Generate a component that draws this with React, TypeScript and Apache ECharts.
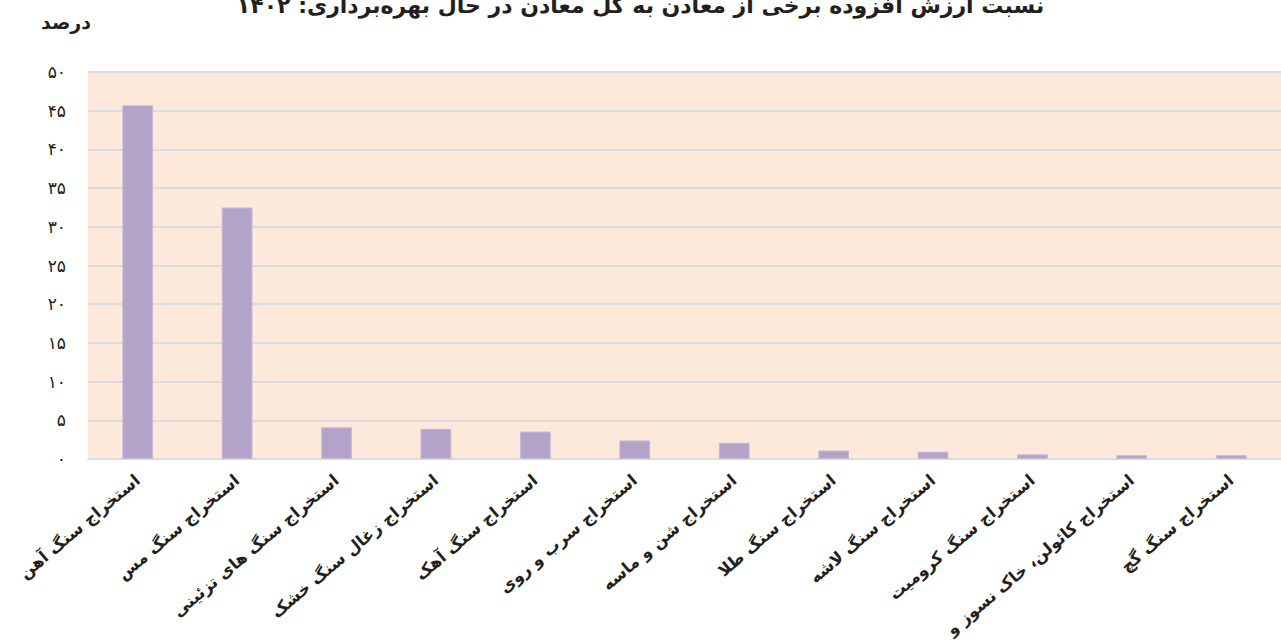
import React, { useEffect, useRef } from "react";
import * as echarts from "echarts";

const title = "نسبت ارزش افزوده برخی از معادن به کل معادن در حال بهره‌برداری: ۱۴۰۲";
const yName = "درصد";
const categories = [
  "استخراج سنگ آهن",
  "استخراج سنگ مس",
  "استخراج سنگ های تزئینی",
  "استخراج زغال سنگ خشک",
  "استخراج سنگ آهک",
  "استخراج سرب و روی",
  "استخراج شن و ماسه",
  "استخراج سنگ طلا",
  "استخراج سنگ لاشه",
  "استخراج سنگ کرومیت",
  "استخراج کائولن، خاک نسوز و",
  "استخراج سنگ گچ",
];
const values = [45.7, 32.5, 4.1, 3.9, 3.55, 2.4, 2.1, 1.1, 0.95, 0.6, 0.5, 0.5];
const yTicks = { min: 0, max: 50, interval: 5 };

const toFa = (n: number) => String(n).replace(/\d/g, (d) => "۰۱۲۳۴۵۶۷۸۹"[Number(d)]);

const FONT = "'DejaVu Sans', sans-serif";

export default function App() {
  const ref = useRef<HTMLDivElement>(null);
  useEffect(() => {
    document.body.style.margin = "0";
    const chart = echarts.init(ref.current!, null, { renderer: "svg" });
    chart.setOption({
      animation: false,
      grid: {
        left: 88,
        right: 0,
        top: 72,
        bottom: 183,
        show: true,
        backgroundColor: "#FCE9DB",
        borderWidth: 0,
        containLabel: false,
        outerBoundsMode: "none",
      },
      graphic: [
        {
          type: "text",
          left: "center",
          top: -6,
          style: { text: title, font: `bold 22px ${FONT}`, fill: "#231F20" },
        },
        {
          type: "text",
          x: 66,
          y: 22,
          style: {
            text: yName,
            font: `bold 19px ${FONT}`,
            fill: "#231F20",
            textAlign: "center",
            textVerticalAlign: "middle",
          },
        },
      ],
      xAxis: {
        type: "category",
        data: categories,
        axisTick: { show: false },
        axisLine: { show: true, lineStyle: { color: "#DCDCDC", width: 2 } },
        axisLabel: {
          rotate: 40,
          interval: 0,
          margin: 19,
          fontFamily: FONT,
          fontWeight: "bold",
          fontSize: 16.5,
          color: "#231F20",
        },
      },
      yAxis: {
        type: "value",
        min: yTicks.min,
        max: yTicks.max,
        interval: yTicks.interval,
        axisLine: { show: false },
        axisTick: { show: false },
        splitLine: { lineStyle: { color: "#DCDCDC", width: 2 } },
        axisLabel: {
          margin: 22,
          fontFamily: FONT,
          fontSize: 17,
          color: "#231F20",
          formatter: (v: number) => toFa(v),
        },
      },
      series: [
        {
          type: "bar",
          data: values,
          barWidth: "31%",
          itemStyle: { color: "#B3A3C8", borderColor: "#C8BBD8", borderWidth: 1 },
        },
      ],
    });
    return () => chart.dispose();
  }, []);
  return <div ref={ref} style={{ width: 1281, height: 642 }} />;
}
